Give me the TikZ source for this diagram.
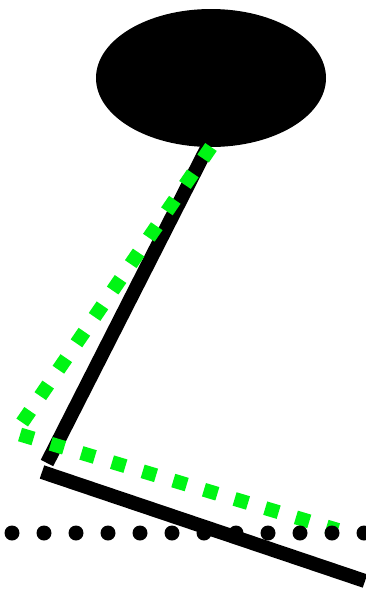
\documentclass[tikz,border=0pt]{standalone}
\begin{document}
\begin{tikzpicture}[x=1pt,y=-1pt,
  limb/.style={line width=14pt,black},
  greendash/.style={line width=14pt,color={rgb,255:red,0;green,245;blue,20},dash pattern=on 14pt off 18pt},
  dotline/.style={line width=15pt,black,line cap=round,dash pattern=on 0pt off 32pt}]
\useasboundingbox (0,0) rectangle (365,592);
\fill (211,78) ellipse [x radius=115, y radius=69];
\coordinate (neck) at (207,148);
\coordinate (knee) at (47,463);
\coordinate (kneeb) at (42,472);
\coordinate (foot) at (365,581);
\coordinate (gtop) at (211,147);
\coordinate (gknee) at (15,433);
\coordinate (gfoot) at (338,530);
\coordinate (dl) at (12,533);
\coordinate (dr) at (370,533);
\draw[limb] (neck) -- (knee);
\draw[limb] (kneeb) -- (foot);
\draw[greendash] (gtop) -- (gknee) -- (gfoot);
\draw[dotline] (dl) -- (dr);
\end{tikzpicture}
\end{document}
